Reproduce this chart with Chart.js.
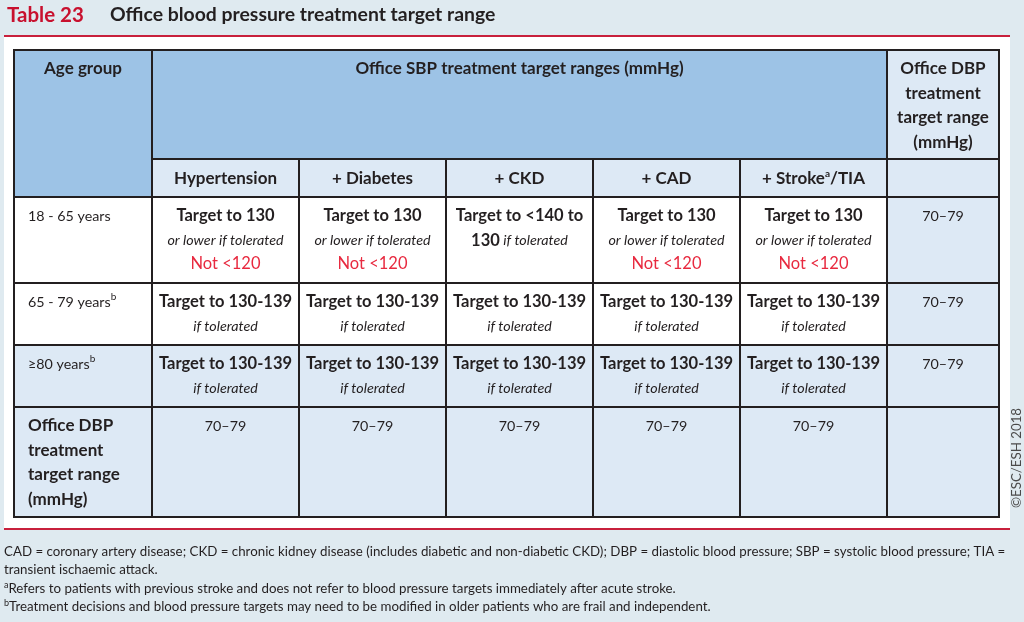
<!DOCTYPE html>
<html>
<head>
<meta charset="utf-8">
<script src="https://cdn.jsdelivr.net/npm/chart.js@4.4.1/dist/chart.umd.min.js"></script>
<style>
  html, body { margin: 0; padding: 0; background: #dfeaf0; }
  canvas { display: block; }
</style>
</head>
<body>
<canvas id="bp-table" width="1024" height="622"></canvas>
<script>
// table content
var tableNo = 'Table 23';
var tableTitle = 'Office blood pressure treatment target range';
var ageHeader = 'Age group';
var sbpHeader = 'Office SBP treatment target ranges (mmHg)';
var dbpHeader = ['Office DBP', 'treatment', 'target range', '(mmHg)'];
var conditions = ['Hypertension', '+ Diabetes', '+ CKD', '+ CAD', '+ Stroke'];
var conditionNotes = ['', '', '', '', 'a'];
var conditionTails = ['', '', '', '', '/TIA'];
var ageGroups = ['18 - 65 years', '65 - 79 years', '\u226580 years'];
var ageNotes = ['', 'b', 'b'];
var sbpTargets = [
  ['Target to 130', 'Target to 130', 'Target to <140 to', 'Target to 130', 'Target to 130'],
  ['Target to 130-139', 'Target to 130-139', 'Target to 130-139', 'Target to 130-139', 'Target to 130-139'],
  ['Target to 130-139', 'Target to 130-139', 'Target to 130-139', 'Target to 130-139', 'Target to 130-139']
];
// *...* marks a bold run inside the italic qualifier
var sbpQualifiers = [
  ['or lower if tolerated', 'or lower if tolerated', '*130* if tolerated', 'or lower if tolerated', 'or lower if tolerated'],
  ['if tolerated', 'if tolerated', 'if tolerated', 'if tolerated', 'if tolerated'],
  ['if tolerated', 'if tolerated', 'if tolerated', 'if tolerated', 'if tolerated']
];
var sbpFloors = [
  ['Not <120', 'Not <120', '', 'Not <120', 'Not <120'],
  ['', '', '', '', ''],
  ['', '', '', '', '']
];
var dbpByAge = ['70\u201379', '70\u201379', '70\u201379'];
var dbpByCondition = ['70\u201379', '70\u201379', '70\u201379', '70\u201379', '70\u201379'];
var footnotes = [
  ['', 'CAD = coronary artery disease; CKD = chronic kidney disease (includes diabetic and non-diabetic CKD); DBP = diastolic blood pressure; SBP = systolic blood pressure; TIA ='],
  ['', 'transient ischaemic attack.'],
  ['a', 'Refers to patients with previous stroke and does not refer to blood pressure targets immediately after acute stroke.'],
  ['b', 'Treatment decisions and blood pressure targets may need to be modified in older patients who are frail and independent.']
];
var copyright = '\u00a9ESC/ESH 2018';

// grid edges in table units (columns / rows)
var colEdges = [0, 138, 285, 432, 579, 726, 873, 985];
var rowEdges = [0, 109, 147, 233, 295, 357, 467];

var INK = '#231f20';
var RED = '#c8102e';
var DARK = '#9dc3e6';
var LIGHT = '#dde9f5';
var FONT = 'Lato, "Open Sans", sans-serif';

function runs(ctx, x, y, parts, align) {
  // parts: [text, font, color, raise]
  var total = 0;
  parts.forEach(function(p) { ctx.font = p[1]; total += ctx.measureText(p[0]).width; });
  var cx = align === 'center' ? x - total / 2 : x;
  ctx.textAlign = 'left';
  parts.forEach(function(p) {
    ctx.font = p[1];
    ctx.fillStyle = p[2];
    ctx.fillText(p[0], cx, y - (p[3] || 0));
    cx += ctx.measureText(p[0]).width;
  });
}

function qualifierParts(txt) {
  var out = [];
  txt.split('*').forEach(function(s, i) {
    if (!s) return;
    out.push([s, (i % 2 ? 'bold 16.5px ' : 'italic 14.3px ') + FONT, INK]);
  });
  return out;
}

var tablePlugin = {
  id: 'bpTable',
  beforeDraw: function(chart) {
    var ctx = chart.ctx;
    ctx.save();
    ctx.fillStyle = '#dfeaf0';
    ctx.fillRect(0, 0, 1024, 622);
    ctx.fillStyle = '#ffffff';
    ctx.fillRect(4, 37, 1006, 492);
    ctx.fillStyle = '#c8203c';
    ctx.fillRect(4, 35, 1006, 2);
    ctx.fillRect(4, 528, 1006, 2);

    ctx.textBaseline = 'middle';
    runs(ctx, 7, 15, [[tableNo, 'bold 20.5px ' + FONT, RED]], 'left');
    runs(ctx, 110, 15, [[tableTitle, 'bold 19.4px ' + FONT, INK]], 'left');

    var fy = [552, 570, 589, 607];
    footnotes.forEach(function(f, i) {
      var parts = [];
      if (f[0]) parts.push([f[0], '9px ' + FONT, INK, 4]);
      parts.push([f[1], '13.3px ' + FONT, INK]);
      runs(ctx, 4, fy[i], parts, 'left');
    });

    ctx.translate(1017, 458);
    ctx.rotate(-Math.PI / 2);
    ctx.font = '13.3px ' + FONT;
    ctx.fillStyle = '#4a4a4a';
    ctx.textAlign = 'center';
    ctx.fillText(copyright, 0, 0);
    ctx.restore();
  },
  afterDraw: function(chart) {
    var ctx = chart.ctx;
    var xs = chart.scales.x, ys = chart.scales.y;
    function X(c) { return xs.getPixelForValue(colEdges[c]); }
    function Y(r) { return ys.getPixelForValue(rowEdges[r]); }
    function cell(c0, c1, r0, r1, color) {
      ctx.fillStyle = color;
      ctx.fillRect(X(c0), Y(r0), X(c1) - X(c0), Y(r1) - Y(r0));
    }
    function mid(c) { return (X(c) + X(c + 1)) / 2; }
    ctx.save();

    // fills
    cell(0, 1, 0, 2, DARK);
    cell(1, 6, 0, 1, DARK);
    cell(6, 7, 0, 1, LIGHT);
    cell(1, 7, 1, 2, LIGHT);
    cell(0, 6, 2, 4, '#ffffff');
    cell(6, 7, 2, 4, LIGHT);
    cell(0, 7, 4, 6, LIGHT);

    // rules
    ctx.strokeStyle = INK;
    ctx.lineWidth = 2;
    ctx.beginPath();
    colEdges.forEach(function(v, c) {
      var x = X(c);
      if (c >= 2 && c <= 5) { ctx.moveTo(x, Y(1)); } else { ctx.moveTo(x, Y(0)); }
      ctx.lineTo(x, Y(6));
    });
    rowEdges.forEach(function(v, r) {
      ctx.moveTo(r === 1 ? X(1) : X(0) - 1, Y(r));
      ctx.lineTo(X(7) + 1, Y(r));
    });
    ctx.stroke();

    ctx.textBaseline = 'middle';
    var H = 'bold 17px ' + FONT;
    var B = 'bold 16.5px ' + FONT;
    var R = '14.3px ' + FONT;
    var LH = 24.5;

    // header
    runs(ctx, mid(0), Y(0) + 19, [[ageHeader, H, INK]], 'center');
    runs(ctx, (X(1) + X(6)) / 2, Y(0) + 19, [[sbpHeader, H, INK]], 'center');
    dbpHeader.forEach(function(t, i) {
      runs(ctx, mid(6), Y(0) + 19 + i * LH, [[t, H, INK]], 'center');
    });
    var hy = (Y(1) + Y(2)) / 2 + 1;
    conditions.forEach(function(t, i) {
      var parts = [[t, H, INK]];
      if (conditionNotes[i]) parts.push([conditionNotes[i], 'bold 10px ' + FONT, INK, 5]);
      if (conditionTails[i]) parts.push([conditionTails[i], H, INK]);
      runs(ctx, mid(i + 1), hy, parts, 'center');
    });

    // body rows
    ageGroups.forEach(function(g, r) {
      var top = Y(r + 2) + 19;
      var parts = [[g, R, INK]];
      if (ageNotes[r]) parts.push([ageNotes[r], '10px ' + FONT, INK, 5]);
      runs(ctx, X(0) + 14, top, parts, 'left');
      for (var c = 0; c < conditions.length; c++) {
        runs(ctx, mid(c + 1), top, [[sbpTargets[r][c], B, INK]], 'center');
        if (sbpQualifiers[r][c]) runs(ctx, mid(c + 1), top + LH, qualifierParts(sbpQualifiers[r][c]), 'center');
        if (sbpFloors[r][c]) runs(ctx, mid(c + 1), top + 2 * LH - 1, [[sbpFloors[r][c], '16.5px ' + FONT, '#e8293f']], 'center');
      }
      runs(ctx, mid(6), top, [[dbpByAge[r], R, INK]], 'center');
    });

    var dTop = Y(5) + 19;
    dbpHeader.forEach(function(t, i) {
      runs(ctx, X(0) + 14, dTop + i * LH, [[t, H, INK]], 'left');
    });
    dbpByCondition.forEach(function(v, c) {
      runs(ctx, mid(c + 1), dTop, [[v, R, INK]], 'center');
    });
    ctx.restore();
  }
};

var chart = new Chart(document.getElementById('bp-table').getContext('2d'), {
  type: 'scatter',
  data: { datasets: [] },
  options: {
    responsive: false,
    animation: false,
    layout: { padding: { left: 14, right: 25, top: 50, bottom: 105 } },
    plugins: { legend: { display: false }, tooltip: { enabled: false } },
    scales: {
      x: { type: 'linear', display: false, min: colEdges[0], max: colEdges[colEdges.length - 1] },
      y: { type: 'linear', display: false, reverse: true, min: rowEdges[0], max: rowEdges[rowEdges.length - 1] }
    }
  },
  plugins: [tablePlugin]
});
</script>
</body>
</html>
